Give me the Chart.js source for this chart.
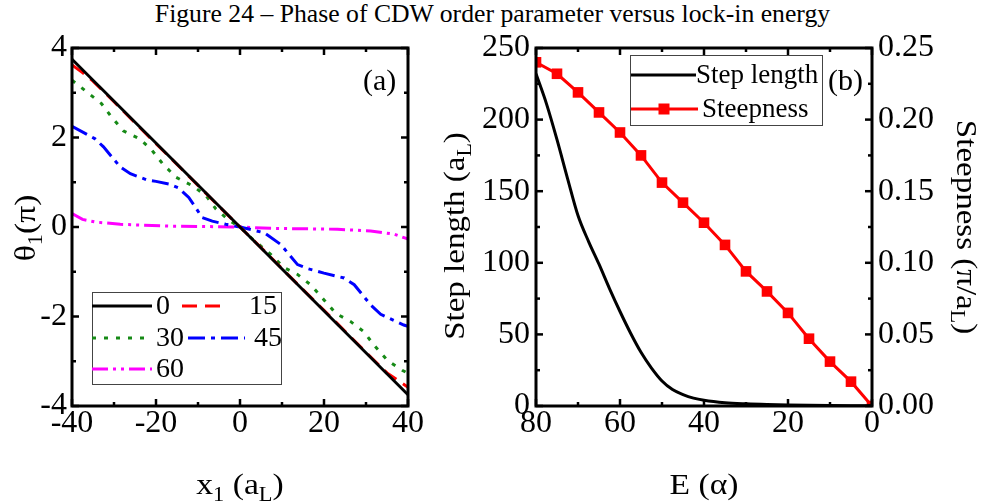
<!DOCTYPE html>
<html>
<head>
<meta charset="utf-8">
<script src="https://cdn.jsdelivr.net/npm/chart.js@4.4.1/dist/chart.umd.min.js"></script>
<style>
    body { margin: 0; background: #fff; width: 985px; height: 504px; position: relative; overflow: hidden; font-family: "Liberation Serif", "Times New Roman", Times, serif; }
    #title { position: absolute; left: 0; top: 1px; width: 985px; text-align: center; font-size: 25.7px; line-height: 26px; color: #000; white-space: nowrap; }
    #wrapA { position: absolute; left: 0; top: 0; width: 440px; height: 504px; }
    #wrapB { position: absolute; left: 440px; top: 0; width: 545px; height: 504px; }
</style>
</head>
<body>
<div id="title">Figure 24 – Phase of CDW order parameter versus lock-in energy</div>
<div id="wrapA"><canvas id="phaseChart"></canvas></div>
<div id="wrapB"><canvas id="stepChart"></canvas></div>

<script>
// ── Datos panel (a): fase θ1 vs x1, una curva por energía de lock-in ──
const phaseX0  = [-40, 40];
const phaseY0  = [3.75, -3.75];

const phaseX15 = [-40, -37.5, -35, -30, -25, -20, -15, -10, -5, 0, 5, 10, 15, 20, 25, 30, 35, 37.5, 40];
const phaseY15 = [3.62, 3.45, 3.26, 2.80, 2.33, 1.86, 1.40, 0.93, 0.46, 0, -0.46, -0.93, -1.40, -1.86, -2.33, -2.80, -3.26, -3.42, -3.58];

const phaseX30 = [-40, -36.5, -33, -30.6, -27.8, -23.9, -21.1, -18.4, -15.2, -11.3, -8.1, -5.7, -2.5, 0, 2.6, 7.3, 10.5, 13.7, 16.8, 20, 22.8, 26.3, 29.5, 31.9, 35.1, 38.6, 40];
const phaseY30 = [3.28, 3.02, 2.76, 2.46, 2.15, 1.97, 1.73, 1.41, 1.11, 0.92, 0.70, 0.40, 0.14, 0, -0.24, -0.61, -0.91, -1.06, -1.29, -1.63, -1.93, -2.11, -2.34, -2.64, -2.98, -3.20, -3.27];

const phaseX45 = [-40, -34.5, -32.5, -30.1, -28.5, -26.1, -22.1, -20, -16.9, -14.6, -12.2, -10.6, -9, -6.6, -3.4, 0, 5.8, 9.7, 13.7, 16.1, 20, 24.8, 27.2, 31.1, 33.5, 39, 40];
const phaseY45 = [2.25, 1.97, 1.79, 1.52, 1.34, 1.19, 1.05, 1.02, 0.96, 0.87, 0.66, 0.44, 0.21, 0.13, 0.06, 0, -0.13, -0.39, -0.84, -0.93, -1.03, -1.14, -1.29, -1.74, -1.95, -2.19, -2.22];

const phaseX60 = [-40, -37.5, -34.3, -28.5, -16.9, 0, 7.3, 23.2, 31.1, 36.7, 39.4, 40];
const phaseY60 = [0.30, 0.17, 0.11, 0.06, 0.02, 0, -0.03, -0.05, -0.09, -0.16, -0.25, -0.27];

const phaseLabels = ['0', '15', '30', '45', '60'];

// ── Datos panel (b): longitud de escalón y pendiente vs E ──
const energyStep = [80, 77.5, 75, 72.5, 70, 67.5, 65, 62.5, 60, 57.5, 55, 52.5, 50, 47.5, 45, 42.5, 40, 35, 30, 25, 20, 15, 10, 5, 0];
const stepLength = [232, 211, 186, 159, 133, 115, 99, 82, 66, 51, 37.5, 26.5, 17.5, 11.5, 8, 5.5, 4, 2.3, 1.5, 1.0, 0.7, 0.5, 0.35, 0.25, 0.2];

const energySteep = [80, 75, 70, 65, 60, 55, 50, 45, 40, 35, 30, 25, 20, 15, 10, 5, 0];
const steepness   = [0.240, 0.232, 0.219, 0.205, 0.191, 0.175, 0.156, 0.142, 0.128, 0.1125, 0.094, 0.080, 0.065, 0.047, 0.031, 0.017, 0];

// ── Ticks ──
const xTicksA      = [-40, -20, 0, 20, 40];
const xMinorA      = [-30, -10, 10, 30];
const thetaTicks   = [-4, -2, 0, 2, 4];
const thetaMinor   = [-3, -1, 1, 3];
const eTicks       = [80, 60, 40, 20, 0];
const eMinor       = [70, 50, 30, 10];
const stepTicks    = [0, 50, 100, 150, 200, 250];
const stepMinor    = [25, 75, 125, 175, 225];
const steepTicks   = [0, 0.05, 0.10, 0.15, 0.20, 0.25];
const steepMinor   = [0.025, 0.075, 0.125, 0.175, 0.225];

const FONT = '"Liberation Serif", "Times New Roman", Times, serif';
const pts = (xs, ys) => xs.map((x, i) => ({ x: x, y: ys[i] }));

// texto con subíndices: partes [{t, sub}], sx = estirado horizontal
function richText(ctx, parts, cx, cy, rot, size, sx) {
    const subSize = Math.round(size * 0.66);
    let w = 0;
    parts.forEach(p => {
        ctx.font = (p.sub ? subSize : size) + 'px ' + FONT;
        p.w = ctx.measureText(p.t).width;
        w += p.w;
    });
    ctx.save();
    ctx.translate(cx, cy);
    ctx.rotate(rot);
    ctx.scale(sx || 1, 1);
    ctx.fillStyle = '#000';
    ctx.textBaseline = 'alphabetic';
    ctx.textAlign = 'left';
    let x = -w / 2;
    const base = size * 0.33;
    parts.forEach(p => {
        ctx.font = (p.sub ? subSize : size) + 'px ' + FONT;
        ctx.fillText(p.t, x, base + (p.sub ? size * 0.22 : 0));
        x += p.w;
    });
    ctx.restore();
}

function drawFrameTicks(chart, sides) {
    const ctx = chart.ctx, a = chart.chartArea;
    ctx.save();
    ctx.strokeStyle = '#000';
    ctx.lineWidth = 2.5;
    sides.forEach(s => {
        const scale = chart.scales[s.scale];
        const mark = (v, len) => {
            const p = scale.getPixelForValue(v);
            ctx.beginPath();
            if (s.side === 'bottom') { ctx.moveTo(p, a.bottom); ctx.lineTo(p, a.bottom - len); }
            if (s.side === 'top')    { ctx.moveTo(p, a.top);    ctx.lineTo(p, a.top + len); }
            if (s.side === 'left')   { ctx.moveTo(a.left, p);   ctx.lineTo(a.left + len, p); }
            if (s.side === 'right')  { ctx.moveTo(a.right, p);  ctx.lineTo(a.right - len, p); }
            ctx.stroke();
        };
        s.major.forEach(v => mark(v, 7));
        s.minor.forEach(v => mark(v, 4));
    });
    ctx.lineWidth = 3;
    ctx.strokeRect(a.left, a.top, a.right - a.left, a.bottom - a.top);
    ctx.restore();
}

function lineSample(ctx, ds, x1, x2, y) {
    ctx.save();
    ctx.strokeStyle = ds.borderColor;
    ctx.lineWidth = ds.borderWidth;
    ctx.setLineDash(ds.borderDash || []);
    ctx.beginPath();
    ctx.moveTo(x1, y); ctx.lineTo(x2, y);
    ctx.stroke();
    ctx.restore();
}

function plainText(ctx, t, x, y, size) {
    ctx.save();
    ctx.font = size + 'px ' + FONT;
    ctx.fillStyle = '#000';
    ctx.textBaseline = 'middle';
    ctx.fillText(t, x, y);
    ctx.restore();
}

// ── Panel (a) ──
const phaseColors = ['#000000', '#ff0000', '#168a16', '#0000ff', '#ff00ff'];
const phaseDash   = [[], [15, 8], [4, 8], [17, 6, 4, 6], [16, 5, 3, 5, 3, 5]];
const phaseSets = [
    pts(phaseX0, phaseY0), pts(phaseX15, phaseY15), pts(phaseX30, phaseY30),
    pts(phaseX45, phaseY45), pts(phaseX60, phaseY60)
];

const legendA = {
    id: 'legendA',
    afterDraw(chart) {
        const ctx = chart.ctx;
        drawFrameTicks(chart, [
            { scale: 'x', side: 'bottom', major: xTicksA, minor: xMinorA },
            { scale: 'x', side: 'top', major: xTicksA, minor: xMinorA },
            { scale: 'y', side: 'left', major: thetaTicks, minor: thetaMinor },
            { scale: 'y', side: 'right', major: thetaTicks, minor: thetaMinor }
        ]);
        // caja de leyenda
        ctx.save();
        ctx.fillStyle = '#fff';
        ctx.fillRect(92, 292, 190, 93);
        ctx.strokeStyle = '#444';
        ctx.lineWidth = 1;
        ctx.strokeRect(92.5, 292.5, 189, 92);
        ctx.restore();
        const ds = chart.data.datasets;
        const slots = [
            { l: 92, r: 152, tx: 156, y: 306 },
            { l: 182, r: 228, tx: 249, y: 306 },
            { l: 92, r: 152, tx: 156, y: 338 },
            { l: 188, r: 245, tx: 254, y: 338 },
            { l: 92, r: 152, tx: 156, y: 369 }
        ];
        slots.forEach((s, i) => {
            lineSample(ctx, ds[i], s.l, s.r, s.y);
            plainText(ctx, ds[i].label, s.tx, s.y + 1, 28);
        });
        plainText(ctx, '(a)', 363, 82, 30);
        richText(ctx, [{ t: 'θ' }, { t: '1', sub: true }, { t: '(π)' }], 25, 228, -Math.PI / 2, 30, 1.12);
        richText(ctx, [{ t: 'x' }, { t: '1', sub: true }, { t: ' (a' }, { t: 'L', sub: true }, { t: ')' }], 240, 484, 0, 30, 1.12);
    }
};

const legendB = {
    id: 'legendB',
    afterDraw(chart) {
        const ctx = chart.ctx;
        drawFrameTicks(chart, [
            { scale: 'x', side: 'bottom', major: eTicks, minor: eMinor },
            { scale: 'x', side: 'top', major: eTicks, minor: eMinor },
            { scale: 'y', side: 'left', major: stepTicks, minor: stepMinor },
            { scale: 'y1', side: 'right', major: steepTicks, minor: steepMinor }
        ]);
        const ds = chart.data.datasets;
        ctx.save();
        ctx.fillStyle = '#fff';
        ctx.fillRect(190, 55, 193, 71);
        ctx.strokeStyle = '#444';
        ctx.lineWidth = 1;
        ctx.strokeRect(190.5, 55.5, 192, 70);
        ctx.restore();
        lineSample(ctx, ds[0], 191, 256, 75);
        lineSample(ctx, ds[1], 191, 258, 109);
        ctx.save();
        ctx.fillStyle = ds[1].pointBackgroundColor;
        ctx.fillRect(224 - 5.5, 109 - 5.5, 11, 11);
        ctx.restore();
        plainText(ctx, ds[0].label, 256, 76, 27);
        plainText(ctx, ds[1].label, 262, 110, 27);
        plainText(ctx, '(b)', 388, 82, 30);
        richText(ctx, [{ t: 'Step length (a' }, { t: 'L', sub: true }, { t: ')' }], 14, 236, -Math.PI / 2, 30, 1.1);
        richText(ctx, [{ t: 'Steepness (π/a' }, { t: 'L', sub: true }, { t: ')' }], 527, 227, Math.PI / 2, 30, 1.1);
        richText(ctx, [{ t: 'E (α)' }], 264, 484, 0, 30, 1.12);
    }
};

function tickFont() { return { family: FONT, size: 32 }; }

new Chart(document.getElementById('phaseChart'), {
    type: 'line',
    data: {
        datasets: phaseSets.map((d, i) => ({
            label: phaseLabels[i],
            data: d,
            borderColor: phaseColors[i],
            borderWidth: 3,
            borderDash: phaseDash[i],
            pointRadius: 0,
            tension: 0,
            clip: 0
        }))
    },
    options: {
        responsive: true,
        maintainAspectRatio: false,
        animation: false,
        layout: { padding: { top: 48, right: 32, left: 0, bottom: 0 } },
        plugins: { legend: { display: false }, tooltip: { enabled: false } },
        scales: {
            x: {
                type: 'linear', min: -40, max: 40,
                grid: { display: false, drawTicks: false },
                border: { display: false },
                afterBuildTicks: s => { s.ticks = xTicksA.map(v => ({ value: v })); },
                afterFit: s => { s.height = 98; },
                ticks: { color: '#000', padding: -2, maxRotation: 0, font: tickFont() }
            },
            y: {
                type: 'linear', min: -4, max: 4,
                grid: { display: false, drawTicks: false },
                border: { display: false },
                afterBuildTicks: s => { s.ticks = thetaTicks.map(v => ({ value: v })); },
                afterFit: s => { s.width = 72; },
                ticks: { color: '#000', padding: 5, font: tickFont() }
            }
        }
    },
    plugins: [legendA]
});

new Chart(document.getElementById('stepChart'), {
    type: 'line',
    data: {
        datasets: [{
            label: 'Step length',
            data: pts(energyStep, stepLength),
            yAxisID: 'y',
            borderColor: '#000',
            borderWidth: 3,
            pointRadius: 0,
            cubicInterpolationMode: 'monotone',
            clip: 0
        }, {
            label: 'Steepness',
            data: pts(energySteep, steepness),
            yAxisID: 'y1',
            borderColor: '#ff0000',
            borderWidth: 3,
            pointStyle: 'rect',
            pointRadius: 7.5,
            pointBackgroundColor: '#ff0000',
            pointBorderWidth: 0,
            tension: 0,
            clip: 0
        }]
    },
    options: {
        responsive: true,
        maintainAspectRatio: false,
        animation: false,
        layout: { padding: { top: 48, right: 0, left: 0, bottom: 0 } },
        plugins: { legend: { display: false }, tooltip: { enabled: false } },
        scales: {
            x: {
                type: 'linear', min: 0, max: 80, reverse: true,
                grid: { display: false, drawTicks: false },
                border: { display: false },
                afterBuildTicks: s => { s.ticks = eTicks.map(v => ({ value: v })); },
                afterFit: s => { s.height = 98; },
                ticks: { color: '#000', padding: -2, maxRotation: 0, font: tickFont() }
            },
            y: {
                type: 'linear', position: 'left', min: 0, max: 250,
                grid: { display: false, drawTicks: false },
                border: { display: false },
                afterBuildTicks: s => { s.ticks = stepTicks.map(v => ({ value: v })); },
                afterFit: s => { s.width = 96; },
                ticks: { color: '#000', padding: 6, font: tickFont() }
            },
            y1: {
                type: 'linear', position: 'right', min: 0, max: 0.25,
                grid: { display: false, drawTicks: false },
                border: { display: false },
                afterBuildTicks: s => { s.ticks = steepTicks.map(v => ({ value: v })); },
                afterFit: s => { s.width = 113; },
                ticks: { color: '#000', padding: 6, font: tickFont(), callback: v => v.toFixed(2) }
            }
        }
    },
    plugins: [legendB]
});
</script>
</body>
</html>
